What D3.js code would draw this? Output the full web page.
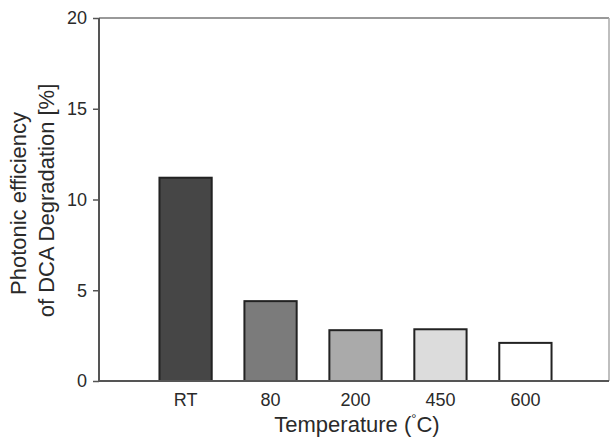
<!DOCTYPE html>
<html>
<head>
<meta charset="utf-8">
<script src="https://cdn.jsdelivr.net/npm/d3@7"></script>
<style>
  body { margin: 0; background: #fff; }
  svg { display: block; }
</style>
</head>
<body>
<svg id="chart" width="611" height="446"></svg>
<script>
// Data
const categories = ["RT", "80", "200", "450", "600"];
const efficiency = [11.2, 4.4, 2.8, 2.85, 2.1];
const barColors = ["#464646", "#7b7b7b", "#aaaaaa", "#dcdcdc", "#ffffff"];
const yTicks = [0, 5, 10, 15, 20];

const font_family = "'Liberation Sans', Arial, sans-serif";
const font_color = "#2a2a2a";

const margin = { top: 18, right: 2, bottom: 65, left: 99 };
const svgContainer = d3.select("#chart");
const width = +svgContainer.attr("width") - margin.left - margin.right;
const height = +svgContainer.attr("height") - margin.top - margin.bottom;

const svg = svgContainer.append("g")
  .attr("transform", `translate(${margin.left},${margin.top})`);

// Scales
const x = d3.scaleBand()
  .domain(categories)
  .range([1, width + 2])
  .paddingInner(0.385)
  .paddingOuter(0.7);

const y = d3.scaleLinear()
  .domain([0, 20])
  .range([height, 0]);

// Frame (top and right are lighter)
svg.append("line")
  .attr("x1", 0).attr("x2", width).attr("y1", 0).attr("y2", 0)
  .attr("stroke", "#777").attr("stroke-width", 1.5);
svg.append("line")
  .attr("x1", width).attr("x2", width).attr("y1", 0).attr("y2", height)
  .attr("stroke", "#aaa").attr("stroke-width", 1.5);

// Bars
svg.selectAll(".bar")
  .data(categories)
  .enter()
  .append("rect")
  .attr("class", "bar")
  .attr("x", d => x(d))
  .attr("y", (d, i) => y(efficiency[i]))
  .attr("width", x.bandwidth())
  .attr("height", (d, i) => y(0) - y(efficiency[i]))
  .attr("fill", (d, i) => barColors[i])
  .attr("stroke", "#222")
  .attr("stroke-width", 2);

// Y axis
const yAxis = svg.append("g")
  .call(d3.axisLeft(y).tickValues(yTicks).tickSize(6).tickPadding(6));
yAxis.select(".domain").remove();
yAxis.selectAll(".tick line").attr("stroke", "#555").attr("stroke-width", 1.5);
yAxis.selectAll("text")
  .style("font-size", "18px")
  .style("font-family", font_family)
  .style("fill", font_color);

svg.append("line")
  .attr("x1", 0).attr("x2", 0).attr("y1", 0).attr("y2", height)
  .attr("stroke", "#555").attr("stroke-width", 2);

// X axis
const xAxis = svg.append("g")
  .attr("transform", `translate(0, ${height})`)
  .call(d3.axisBottom(x).tickSize(0).tickPadding(12));
xAxis.select(".domain").remove();
xAxis.selectAll("text")
  .style("font-size", "18px")
  .style("font-family", font_family)
  .style("fill", font_color);

svg.append("line")
  .attr("x1", 0).attr("x2", width).attr("y1", height).attr("y2", height)
  .attr("stroke", "#555").attr("stroke-width", 2);

// X axis title
const xTitle = svg.append("text")
  .attr("text-anchor", "middle")
  .attr("x", width / 2 + 3)
  .attr("y", height + 51)
  .attr("fill", font_color)
  .attr("font-family", font_family)
  .attr("font-size", 22);
xTitle.append("tspan").text("Temperature (");
xTitle.append("tspan").attr("font-size", 13).attr("dy", -9).text("°");
xTitle.append("tspan").attr("dy", 9).text("C)");

// Y axis title, two lines
const yTitle = svg.append("text")
  .attr("text-anchor", "middle")
  .attr("transform", "rotate(-90)")
  .attr("fill", font_color)
  .attr("font-family", font_family)
  .attr("font-size", 22);
yTitle.append("tspan")
  .attr("x", -height / 2 - 4)
  .attr("y", -73)
  .text("Photonic efficiency");
yTitle.append("tspan")
  .attr("x", -height / 2 - 1)
  .attr("y", -45)
  .text("of DCA Degradation [%]");
</script>
</body>
</html>
